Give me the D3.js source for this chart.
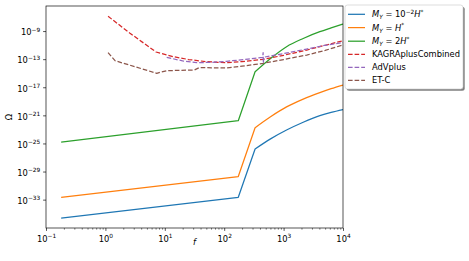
<!DOCTYPE html>
<html><head><meta charset="utf-8">
<script src="https://cdn.jsdelivr.net/npm/d3@7"></script>
<style>
html,body{margin:0;padding:0;background:#fff;}
svg{display:block;font-family:"DejaVu Sans",sans-serif;}
</style></head>
<body><svg id="c" width="469" height="261"></svg>
<script>
// ---- data (log10 f, log10 Omega) ----
const modelLogF   = [-0.745, 2.237, 2.52, 2.78, 3.05, 3.33, 3.61, 3.80, 4.0];
const blueLogOmega   = [-35.62, -32.67, -25.79, -24.35, -23.09, -21.98, -21.05, -20.58, -20.17];
const orangeLogOmega = [-32.67, -29.71, -22.76, -21.20, -19.80, -18.70, -17.77, -17.20, -16.68];
const greenLogOmega  = [-24.80, -21.76, -14.79, -12.90, -11.22, -10.05, -9.09, -8.55, -8.00];

const kagraLogF     = [0.045, 0.414, 0.852, 1.143, 1.40, 1.705, 2.042, 2.30, 2.658, 3.0, 3.389, 3.70, 4.0];
const kagraLogOmega = [-6.90, -9.30, -11.98, -12.65, -13.05, -13.36, -13.50, -13.35, -13.02, -12.45, -11.70, -11.02, -10.37];

const advLogF     = [1.032, 1.30, 1.537, 1.80, 2.042, 2.40, 2.648, 2.655, 2.659, 2.666, 3.0, 3.389, 3.70, 4.0];
const advLogOmega = [-12.73, -13.25, -13.50, -13.45, -13.30, -13.00, -12.75, -12.08, -13.55, -12.72, -12.20, -11.56, -11.02, -10.62];

const etLogF     = [0.045, 0.162, 0.864, 1.03, 1.50, 1.58, 2.042, 2.30, 2.658, 3.0, 3.389, 3.70, 4.0];
const etLogOmega = [-12.08, -13.22, -15.01, -14.64, -14.54, -14.21, -14.25, -14.00, -13.59, -13.05, -12.41, -11.75, -10.98];

const xMajorTicks = [-1, 0, 1, 2, 3, 4];
const yMajorTicks = [-33, -29, -25, -21, -17, -13, -9];
const xLabel = "f";
const yLabel = "Ω";

const series = [
  {name:"blue",   lf:modelLogF, lo:blueLogOmega,   color:"#1f77b4", dash:null, smoothFrom:2, label:[["M","i"],["Y","sub"],[" = 10",""],["−2","sup"],["H","i"],["*","sup"]]},
  {name:"orange", lf:modelLogF, lo:orangeLogOmega, color:"#ff7f0e", dash:null, smoothFrom:2, label:[["M","i"],["Y","sub"],[" = ",""],["H","i"],["*","sup"]]},
  {name:"green",  lf:modelLogF, lo:greenLogOmega,  color:"#2ca02c", dash:null, smoothFrom:2, label:[["M","i"],["Y","sub"],[" = 2",""],["H","i"],["*","sup"]]},
  {name:"kagra",  lf:kagraLogF, lo:kagraLogOmega,  color:"#d62728", dash:"4.6,2", smoothFrom:null, label:[["KAGRAplusCombined",""]]},
  {name:"adv",    lf:advLogF,   lo:advLogOmega,    color:"#9467bd", dash:"4.6,2", smoothFrom:null, label:[["AdVplus",""]]},
  {name:"et",     lf:etLogF,    lo:etLogOmega,     color:"#8c564b", dash:"4.6,2", smoothFrom:null, label:[["ET-C",""]]}
];

// ---- layout ----
const L=46, R=343, T=6, B=228;
const fs = 8.33;
const svg = d3.select("#c");
const x = d3.scaleLog().domain([0.1, 1e4]).range([L, R]);
const y = d3.scaleLog().domain([Math.pow(10,-37.04), Math.pow(10,-5.43)]).range([B, T]);

svg.append("defs").append("clipPath").attr("id","clip")
  .append("rect").attr("x",L).attr("y",T).attr("width",R-L).attr("height",B-T);

// lines
const line = d3.line().x(d=>x(d[0])).y(d=>y(d[1]));
const lineSmooth = d3.line().x(d=>x(d[0])).y(d=>y(d[1])).curve(d3.curveMonotoneX);
const g = svg.append("g").attr("clip-path","url(#clip)");
series.forEach(s=>{
  const pts = s.lf.map((v,i)=>[Math.pow(10,v), Math.pow(10,s.lo[i])]);
  let d;
  if(s.smoothFrom!=null){
    const a = line(pts.slice(0, s.smoothFrom+1));
    const b = lineSmooth(pts.slice(s.smoothFrom));
    d = a + "L" + b.slice(1);
  } else d = line(pts);
  g.append("path").attr("d", d).attr("fill","none")
    .attr("stroke", s.color).attr("stroke-width",1.25)
    .attr("stroke-dasharray", s.dash).attr("stroke-linejoin","round");
});

// axes
function sup10(sel){
  sel.each(function(d){
    const t = d3.select(this); t.text(null);
    const e = Math.round(Math.log10(d));
    t.append("tspan").text("10");
    t.append("tspan").attr("dy",-3.6).attr("font-size",fs*0.7).text(e<0?("−"+(-e)):String(e));
  });
}
const xMinor = [];
for(let k=-1;k<4;k++) for(let m=2;m<10;m++) xMinor.push(m*Math.pow(10,k));

const gx = svg.append("g").attr("transform",`translate(0,${B})`)
  .call(d3.axisBottom(x).tickValues(xMajorTicks.map(v=>Math.pow(10,v))).tickSize(2.9).tickPadding(2.9).tickFormat(()=>""));
gx.select(".domain").remove();
gx.selectAll(".tick line").attr("stroke","#000").attr("stroke-width",0.67);
gx.selectAll(".tick text").attr("font-size",fs).attr("fill","#000").attr("font-family","DejaVu Sans").attr("dy","0.95em").call(sup10);
const gxm = svg.append("g").attr("transform",`translate(0,${B})`)
  .call(d3.axisBottom(x).tickValues(xMinor).tickSize(1.67).tickFormat(()=>""));
gxm.select(".domain").remove();
gxm.selectAll(".tick line").attr("stroke","#000").attr("stroke-width",0.5);

const gy = svg.append("g").attr("transform",`translate(${L},0)`)
  .call(d3.axisLeft(y).tickValues(yMajorTicks.map(v=>Math.pow(10,v))).tickSize(2.9).tickPadding(2.9).tickFormat(()=>""));
gy.select(".domain").remove();
gy.selectAll(".tick line").attr("stroke","#000").attr("stroke-width",0.67);
gy.selectAll(".tick text").attr("font-size",fs).attr("fill","#000").attr("font-family","DejaVu Sans").attr("dy","0.45em").call(sup10);

// frame
svg.append("rect").attr("x",L).attr("y",T).attr("width",R-L).attr("height",B-T)
  .attr("fill","none").attr("stroke","#000").attr("stroke-width",0.67);

// axis labels
svg.append("text").attr("x",(L+R)/2).attr("y",245).attr("text-anchor","middle")
  .attr("font-size",fs).attr("font-family","DejaVu Sans").attr("font-style","italic").text(xLabel);
svg.append("text").attr("transform",`translate(12,${(T+B)/2}) rotate(-90)`).attr("text-anchor","middle")
  .attr("font-size",fs).attr("font-family","DejaVu Sans").text(yLabel);

// legend
const lx=345, ly=5, lw=118, lh=84;
svg.append("rect").attr("x",lx+1.7).attr("y",ly+1.7).attr("width",lw).attr("height",lh).attr("rx",2.5)
  .attr("fill","#000").attr("opacity",0.5);
svg.append("rect").attr("x",lx).attr("y",ly).attr("width",lw).attr("height",lh).attr("rx",2.5)
  .attr("fill","#fff").attr("stroke","#ccc").attr("stroke-width",0.67);
const rowY = [14.3, 27.6, 41.2, 54.3, 67.4, 80.3];
series.forEach((s,i)=>{
  const yy=rowY[i];
  svg.append("line").attr("x1",348).attr("x2",365).attr("y1",yy).attr("y2",yy)
    .attr("stroke",s.color).attr("stroke-width",1.25).attr("stroke-dasharray",s.dash);
  const t = svg.append("text").attr("x",372).attr("y",yy+3).attr("font-size",fs).attr("font-family","DejaVu Sans");
  let cur=0;
  s.label.forEach(([txt,kind])=>{
    let target = kind==="sub"?2:(kind==="sup"?-3.6:0);
    const sp = t.append("tspan").text(txt).attr("dy",target-cur);
    cur=target;
    if(kind==="i") sp.attr("font-style","italic");
    if(kind==="sub"){ sp.attr("font-style","italic").attr("font-size",fs*0.7); }
    if(kind==="sup") sp.attr("font-size",fs*0.7);
  });
});
</script></body></html>
